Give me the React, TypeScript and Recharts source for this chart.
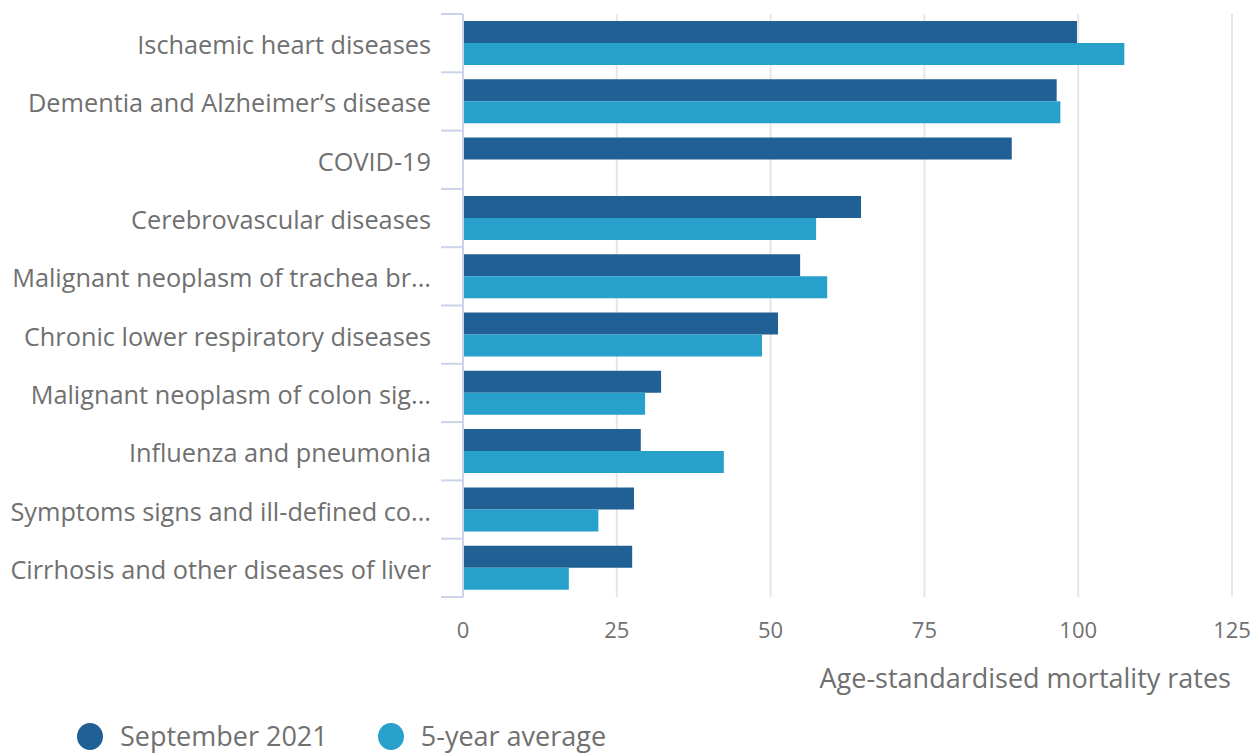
import { Bar, BarChart, CartesianGrid, Label, Legend, XAxis, YAxis } from "recharts";

const causes = [
  "Ischaemic heart diseases",
  "Dementia and Alzheimer’s disease",
  "COVID-19",
  "Cerebrovascular diseases",
  "Malignant neoplasm of trachea br...",
  "Chronic lower respiratory diseases",
  "Malignant neoplasm of colon sig...",
  "Influenza and pneumonia",
  "Symptoms signs and ill-defined co...",
  "Cirrhosis and other diseases of liver",
];
const september2021 = [99.8, 96.5, 89.2, 64.7, 54.8, 51.2, 32.2, 28.9, 27.8, 27.5];
const fiveYearAverage = [107.5, 97.1, null, 57.4, 59.2, 48.6, 29.6, 42.4, 22.0, 17.2];
const xTicks = [0, 25, 50, 75, 100, 125];
const seriesNames = ["September 2021", "5-year average"];

const data = causes.map((cause, i) => ({
  cause,
  sep: september2021[i],
  avg: fiveYearAverage[i],
}));

const WIDTH = 1260;
const HEIGHT = 755;
const MARGIN = { top: 14, right: 28, bottom: 58, left: 0 };
const X_AXIS_HEIGHT = 100;
const PLOT_HEIGHT = HEIGHT - MARGIN.top - MARGIN.bottom - X_AXIS_HEIGHT;
const BAND = PLOT_HEIGHT / causes.length;

const DARK = "#206095";
const LIGHT = "#27a0cc";
const TEXT = "#707070";
const AXIS = "#cbd3ea";
const FONT = "'Open Sans', sans-serif";

const CategoryTick = (props: any) => {
  const { x, y, payload, index } = props;
  const half = BAND / 2;
  return (
    <g>
      <line x1={x + 10} x2={x + 32} y1={y - half} y2={y - half} stroke={AXIS} strokeWidth={2} />
      {index === causes.length - 1 && (
        <line x1={x + 10} x2={x + 32} y1={y + half} y2={y + half} stroke={AXIS} strokeWidth={2} />
      )}
      <text
        x={x}
        y={y + 1}
        textAnchor="end"
        dominantBaseline="central"
        fill={TEXT}
        fontSize={25.3}
        fontFamily={FONT}
      >
        {payload.value}
      </text>
    </g>
  );
};

const LegendContent = (props: any) => {
  const colors: Record<string, string> = {};
  (props.payload || []).forEach((p: any) => (colors[p.value] = p.color));
  return (
    <div style={{ display: "flex", alignItems: "center", fontFamily: FONT }}>
      {seriesNames.map((name) => (
        <div key={name} style={{ display: "flex", alignItems: "center", marginRight: 50 }}>
          <span
            style={{
              display: "inline-block",
              width: 26,
              height: 27,
              borderRadius: "50%",
              background: colors[name],
              marginRight: 17,
            }}
          />
          <span style={{ fontSize: 27, color: TEXT, lineHeight: "34px" }}>{name}</span>
        </div>
      ))}
    </div>
  );
};

export default function App() {
  return (
    <div style={{ position: "absolute", left: 0, top: 0, background: "#fff" }}>
      <BarChart
        width={WIDTH}
        height={HEIGHT}
        data={data}
        layout="vertical"
        margin={MARGIN}
        barGap={0}
        barSize={22}
      >
        <CartesianGrid horizontal={false} stroke="#e6e6e6" strokeWidth={2} />
        <XAxis
          type="number"
          domain={[0, 125]}
          ticks={xTicks}
          height={X_AXIS_HEIGHT}
          axisLine={false}
          tickLine={false}
          tickSize={0}
          tickMargin={25}
          tick={{ fill: TEXT, fontSize: 22, fontFamily: FONT }}
        >
          <Label
            content={(p: any) => {
              const vb = p.viewBox || {};
              return (
                <text
                  x={vb.x + vb.width - 1}
                  y={vb.y + 91}
                  textAnchor="end"
                  fill={TEXT}
                  fontSize={27}
                  fontFamily={FONT}
                >
                  Age-standardised mortality rates
                </text>
              );
            }}
          />
        </XAxis>
        <YAxis
          type="category"
          dataKey="cause"
          width={463}
          interval={0}
          tickLine={false}
          tickSize={22}
          tickMargin={10}
          axisLine={{ stroke: AXIS, strokeWidth: 2 }}
          tick={<CategoryTick />}
        />
        <Legend
          layout="horizontal"
          verticalAlign="middle"
          align="center"
          wrapperStyle={{ top: 719, left: 77, width: 800 }}
          content={<LegendContent />}
        />
        <Bar dataKey="sep" name="September 2021" fill={DARK} isAnimationActive={false} />
        <Bar dataKey="avg" name="5-year average" fill={LIGHT} isAnimationActive={false} />
      </BarChart>
    </div>
  );
}
